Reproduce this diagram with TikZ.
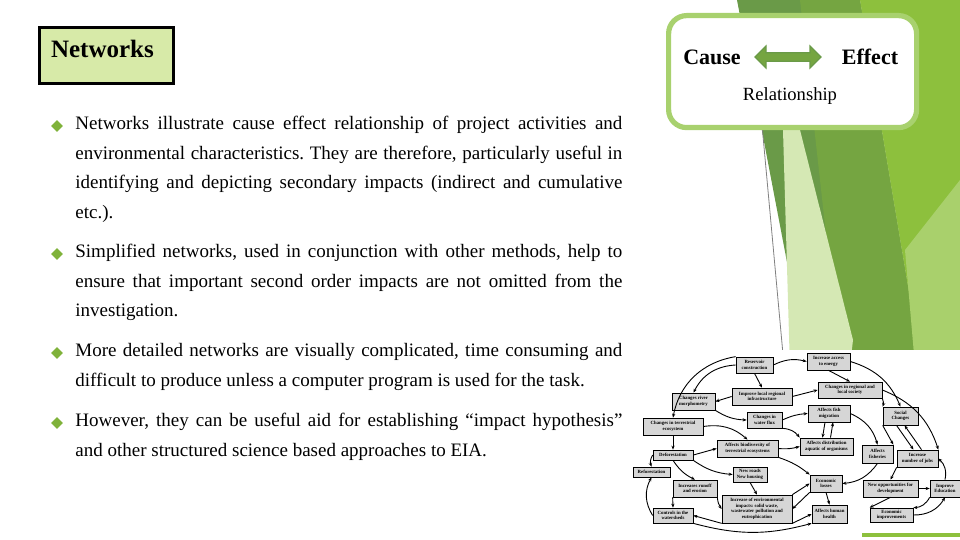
\documentclass[tikz,border=0pt]{standalone}
\usepackage{fontspec}
\setmainfont{Liberation Serif}
\usetikzlibrary{arrows.meta,shapes.arrows,shapes.geometric}
\definecolor{dkg}{HTML}{6A9A48}
\definecolor{mdg}{HTML}{75A541}
\definecolor{brg}{HTML}{8DC03D}
\definecolor{pale}{HTML}{D5E8B4}
\definecolor{pale2}{HTML}{A9D06C}
\definecolor{titlefill}{HTML}{D7EAA8}
\definecolor{frameg}{HTML}{A8D16E}
\definecolor{bulg}{HTML}{7FB23A}
\definecolor{boxg}{HTML}{D6D6D6}
\hyphenpenalty=10000
\exhyphenpenalty=10000
\frenchspacing
\tikzset{
  nb/.style={draw=black,line width=0.35pt,fill=boxg,inner sep=0.5pt,align=center,font=\fontsize{2.4}{2.8}\selectfont\bfseries},
  ar/.style={-{Stealth[length=2pt,width=1.6pt]},line width=0.45pt},
  bul/.style={fill=bulg,diamond,inner sep=0pt,minimum size=6pt},
  para/.style={anchor=north west,inner sep=0pt,text width=273.5pt,align=justify,font=\fontsize{9.5}{14.8}\selectfont}
}
\begin{document}
\begin{tikzpicture}[x=0.5pt,y=-0.5pt]
\useasboundingbox (0,0) rectangle (960,540);
% background shapes
\fill[dkg] (737,0) -- (860,0) -- (917,340) -- (925,540) -- (840,540) -- cycle;
\fill[mdg] (800,0) -- (860,0) -- (917,340) -- (900,540) -- (860,540) -- cycle;
\fill[brg] (860,0) -- (960,0) -- (960,540) -- (910,540) -- (917,340) -- cycle;
\fill[pale2] (905,250) -- (960,180) -- (960,540) -- (930,540) -- cycle;
\fill[pale] (783,130) -- (800,130) -- (853,340) -- (830,540) -- (795,540) -- cycle;
\draw[gray,line width=0.4pt] (762,125) -- (800,540);
% network image background
\fill[white] (628,350) rectangle (960,540);
\draw[brg,line width=2pt] (862,535) -- (960,535);
% title
\node[draw=black,line width=1.6pt,fill=titlefill,minimum width=67pt,minimum height=28pt,anchor=north west] (title) at (38,26) {};
\node[anchor=west,font=\fontsize{12.5}{14}\selectfont\bfseries] (tt) at (44,49) {Networks};
% cause effect box
\node[draw=frameg,line width=2.6pt,rounded corners=9pt,fill=white,minimum width=124pt,minimum height=56pt,anchor=north west] (ce) at (666,13) {};
\node[font=\fontsize{11}{13}\selectfont\bfseries] (cause) at (712,57) {Cause};
\node[font=\fontsize{11}{13}\selectfont\bfseries] (effect) at (870,57) {Effect};
\node[double arrow,fill=mdg,draw=dkg,line width=0.6pt,minimum width=11pt,double arrow head extend=2pt,minimum height=33pt,inner sep=1pt] (dar) at (788,57) {};
\node[font=\fontsize{9.3}{11}\selectfont] (rel) at (790,96) {Relationship};
% bullets
\node[bul] (b1) at (57,126) {};
\node[bul] (b2) at (57,254) {};
\node[bul] (b3) at (57,353) {};
\node[bul] (b4) at (57,423) {};
\node[para] (p1) at (75,116) {Networks illustrate cause effect relationship of project activities and environmental characteristics. They are therefore, particularly useful in identifying and depicting secondary impacts (indirect and cumulative etc.).};
\node[para] (p2) at (75,244) {Simplified networks, used in conjunction with other methods, help to ensure that important second order impacts are not omitted from the investigation.};
\node[para] (p3) at (75,343) {More detailed networks are visually complicated, time consuming and difficult to produce unless a computer program is used for the task.};
\node[para] (p4) at (75,413) {However, they can be useful aid for establishing “impact hypothesis”\linebreak and other structured science based approaches to EIA.};
% network nodes
\newcommand{\nbx}[5]{\node[nb,minimum width={(#3-#1)*0.5pt},minimum height={(#4-#2)*0.5pt}] (#5) at ({(#1+#3)/2},{(#2+#4)/2})}
\nbx{736}{357}{773}{373}{res}{Reservoir\\construction};
\nbx{807}{353}{850}{370}{ene}{Increase access\\to energy};
\nbx{732}{388}{792}{405}{inf}{Improve local regional\\infrastructure};
\nbx{818}{382}{882}{398}{soc}{Changes in regional and\\local society};
\nbx{672}{393}{715}{410}{riv}{Changes river\\morphometry};
\nbx{747}{412}{782}{428}{flx}{Changes in\\water flux};
\nbx{808}{405}{850}{422}{fsh}{Affects fish\\migration};
\nbx{883}{407}{918}{425}{sch}{Social\\Changes};
\nbx{643}{418}{703}{435}{ter}{Changes in terrestrial\\ecosystem};
\nbx{717}{440}{778}{457}{bio}{Affects biodiversity of\\terrestrial ecosystems};
\nbx{800}{438}{853}{455}{dis}{Affects distribution\\aquatic of organisms};
\nbx{862}{445}{893}{463}{fis}{Affects\\fisheries};
\nbx{897}{450}{938}{467}{job}{Increase\\number of jobs};
\nbx{653}{450}{693}{460}{def}{Deforestation};
\nbx{633}{467}{670}{477}{ref}{Reforestation};
\nbx{733}{467}{767}{482}{rds}{New roads\\New housing};
\nbx{673}{480}{717}{497}{run}{Increases runoff\\and erosion};
\nbx{810}{475}{842}{492}{los}{Economic\\losses};
\nbx{863}{480}{918}{497}{opp}{New opportunities for\\development};
\nbx{930}{480}{960}{497}{edu}{Improve\\Education};
\nbx{722}{495}{792}{523}{imp}{Increase of environmental\\impacts: solid waste,\\wastewater pollution and\\eutrophication};
\nbx{812}{505}{847}{523}{hea}{Affects human\\health};
\nbx{653}{508}{693}{523}{con}{Controls in the\\watersheds};
\nbx{870}{508}{913}{522}{eco}{Economic\\improvements};
% network arrows
\draw[ar] (res.east) to[bend left=20] (ene.west);
\draw[ar] (res.south) -- (inf.north);
\draw[ar] (res.west) to[bend right=30] (riv.north);
\draw[ar] (res.north west) to[bend right=35] (ter.north);
\draw[ar] (ene.south) -- (soc.north);
\draw[ar] (ene.east) to[bend left=25] (sch.north);
\draw[ar] (inf.east) -- (soc.west);
\draw[ar] (inf.west) -- (riv.east);
\draw[ar] (soc.south east) to[bend left=20] (sch.north west);
\draw[ar] (soc.east) to[bend left=25] (job.north east);
\draw[ar] (riv.south east) to[bend right=15] (flx.west);
\draw[ar] (flx.east) to[bend left=10] (fsh.west);
\draw[ar] (flx.south east) to[bend left=25] (dis.north west);
\draw[ar] ([xshift=-2pt]fsh.south) -- ([xshift=-2pt]dis.north);
\draw[ar] ([xshift=2pt]dis.north) -- ([xshift=2pt]fsh.south);
\draw[ar] (fsh.east) to[bend left=25] (fis.north);
\draw[ar] (sch.south west) -- (fis.north east);
\draw[ar] ([xshift=-2pt]sch.south) -- ([xshift=-2pt]job.north);
\draw[ar] ([xshift=2pt]job.north) -- ([xshift=2pt]sch.south);
\draw[ar] (ter.south) -- (def.north);
\draw[ar] (ter.east) to[bend left=25] (bio.north);
\draw[ar] (def.west) to[bend right=25] (ref.north);
\draw[ar] (def.east) -- (bio.west);
\draw[ar] (def.south east) to[bend right=15] (rds.west);
\draw[ar] (def.south) to[bend right=15] (run.north);
\draw[ar] (bio.east) to[bend right=10] (dis.west);
\draw[ar] (bio.south east) to[bend left=10] (los.north west);
\draw[ar] (fis.south) to[bend left=25] (los.east);
\draw[ar] (job.south west) -- (opp.north);
\draw[ar] (opp.east) -- (edu.west);
\draw[ar] (edu.north) to[bend right=30] (job.east);
\draw[ar] (opp.south) -- (eco.north west);
\draw[ar] (eco.east) to[bend right=30] (edu.south);
\draw[ar] (edu.south west) to[bend left=30] (eco.north east);
\draw[ar] (run.south west) -- (con.north);
\draw[ar] (run.south east) to[bend right=15] (imp.west);
\draw[ar] (rds.south) -- (imp.north);
\draw[ar] (imp.north east) -- (los.west);
\draw[ar] (los.south west) -- (imp.east);
\draw[ar] (imp.south east) -- (hea.west);
\draw[ar] (los.south) -- (hea.north);
\draw[ar] (imp.south west) -- (con.east);
\draw[ar] (con.west) to[bend left=30] (ref.south);
\draw[ar] (con.south east) to[bend right=15] (hea.south west);
\end{tikzpicture}
\end{document}
